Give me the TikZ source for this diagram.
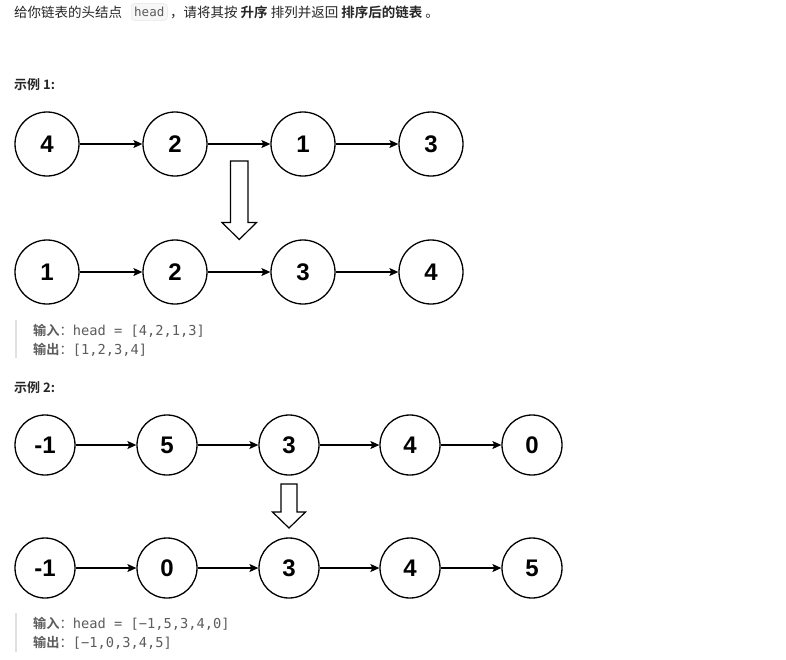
\documentclass[tikz,border=0pt]{standalone}
\usepackage{fontspec}
\setmainfont{Noto Sans CJK SC}[BoldFont={Noto Sans CJK SC Bold}]
\newfontfamily\numfont{Liberation Sans}[BoldFont={* Bold}]
\newfontfamily\codefont{DejaVu Sans Mono}
\usetikzlibrary{arrows.meta}
\definecolor{txt}{HTML}{262626}
\definecolor{codegray}{HTML}{5C5C5C}
\definecolor{codebg}{HTML}{F7F7F7}
\definecolor{codeborder}{HTML}{E5E5E5}
\definecolor{barcol}{HTML}{E0E0E0}
\tikzset{
  lnode/.style={circle,draw,line width=1.3pt,minimum size=64pt,inner sep=0pt,font=\numfont\bfseries\fontsize{24}{24}\selectfont},
  snode/.style={circle,draw,line width=1.3pt,minimum size=60pt,inner sep=0pt,font=\numfont\bfseries\fontsize{24}{24}\selectfont},
  link/.style={line width=1.1pt,-{Stealth[length=9pt,width=8pt,inset=2pt]}},
  para/.style={inner sep=0pt,anchor=west,text=txt,font=\fontsize{13.5}{16}\selectfont},
  codeline/.style={inner sep=0pt,anchor=west,text=codegray,font=\fontsize{13.2}{16}\selectfont},
  bigarrow/.style={draw,line width=1.2pt,fill=white,line join=miter}
}
\begin{document}
\begin{tikzpicture}[x=1pt,y=-1pt]
\useasboundingbox[fill=white] (0,0) rectangle (786,659);
% top line
\node[para] (t1) at (14,12) {给你链表的头结点};
\node[draw=codeborder,fill=codebg,rounded corners=3pt,inner xsep=3pt,inner ysep=3.5pt,anchor=west,text=codegray,font=\codefont\fontsize{12.5}{14}\selectfont] (hd) at (131,12) {head};
\node[para] (t2) at (170,12) {，请将其按 \textbf{升序} 排列并返回 \textbf{排序后的链表} 。};
% example 1
\node[para,font=\bfseries\fontsize{13}{16}\selectfont] (ex1) at (14,85) {示例 1:};
\foreach \n/\x/\v in {a1/47/4,a2/175/2,a3/303/1,a4/431/3}{\node[lnode] (\n) at (\x,144) {\v};}
\foreach \n/\x/\v in {b1/47/1,b2/175/2,b3/303/3,b4/431/4}{\node[lnode] (\n) at (\x,272) {\v};}
\draw[link] (a1) -- (a2);
\draw[link] (a2) -- (a3);
\draw[link] (a3) -- (a4);
\draw[link] (b1) -- (b2);
\draw[link] (b2) -- (b3);
\draw[link] (b3) -- (b4);
\draw[bigarrow] (230.5,161) -- (248,161) -- (248,222.5) -- (256.5,222.5) -- (239.25,239.5) -- (222,222.5) -- (230.5,222.5) -- cycle;
\draw[barcol,line width=2pt] (16,320) coordinate (bar1top) -- (16,358) coordinate (bar1bot);
\node[codeline] (in1) at (33,331) {\textbf{输入}：{\codefont\fontsize{13.7}{16}\selectfont head = [4,2,1,3]}};
\node[codeline] (out1) at (33,350) {\textbf{输出}：{\codefont\fontsize{13.7}{16}\selectfont [1,2,3,4]}};
% example 2
\node[para,font=\bfseries\fontsize{13}{16}\selectfont] (ex2) at (14,388) {示例 2:};
\foreach \n/\x/\v in {c1/45/-1,c2/167/5,c3/289/3,c4/410/4,c5/532/0}{\node[snode] (\n) at (\x,445) {\v};}
\foreach \n/\x/\v in {d1/45/-1,d2/167/0,d3/289/3,d4/410/4,d5/532/5}{\node[snode] (\n) at (\x,568) {\v};}
\draw[link] (c1) -- (c2);
\draw[link] (c2) -- (c3);
\draw[link] (c3) -- (c4);
\draw[link] (c4) -- (c5);
\draw[link] (d1) -- (d2);
\draw[link] (d2) -- (d3);
\draw[link] (d3) -- (d4);
\draw[link] (d4) -- (d5);
\draw[bigarrow] (281,484) -- (297,484) -- (297,512) -- (305.5,512) -- (289,528) -- (272.5,512) -- (281,512) -- cycle;
\draw[barcol,line width=2pt] (16,613) coordinate (bar2top) -- (16,652) coordinate (bar2bot);
\node[codeline] (in2) at (33,624) {\textbf{输入}：{\codefont\fontsize{13.7}{16}\selectfont head = [−1,5,3,4,0]}};
\node[codeline] (out2) at (33,643) {\textbf{输出}：{\codefont\fontsize{13.7}{16}\selectfont [−1,0,3,4,5]}};
\end{tikzpicture}
\end{document}
